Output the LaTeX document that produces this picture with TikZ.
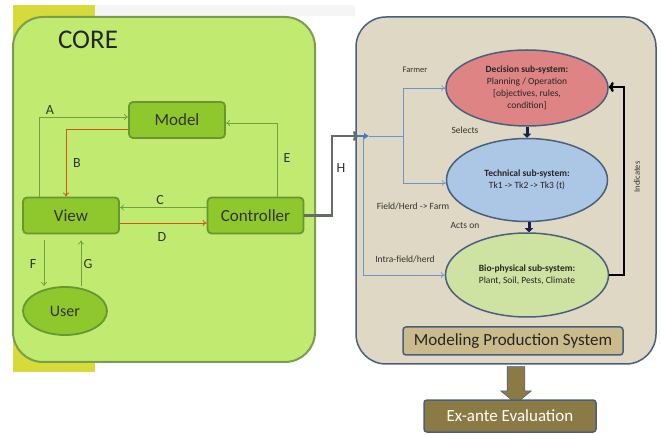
\documentclass[tikz,border=0pt]{standalone}
\usepackage{fontspec}
\setmainfont{Carlito}
\usetikzlibrary{positioning}
\usetikzlibrary{arrows.meta}
\usetikzlibrary{shapes.geometric}
\usetikzlibrary{shapes.arrows}

\definecolor{stripyellow}{RGB}{214,218,58}
\definecolor{corefill}{RGB}{192,234,112}
\definecolor{coreborder}{RGB}{122,158,78}
\definecolor{mvcfill}{RGB}{142,200,44}
\definecolor{mvcborder}{RGB}{104,150,52}
\definecolor{mvcgreen}{RGB}{112,160,64}
\definecolor{mvcred}{RGB}{212,84,30}
\definecolor{hgrey}{RGB}{100,108,100}
\definecolor{prodfill}{RGB}{222,216,196}
\definecolor{prodborder}{RGB}{72,96,126}
\definecolor{decfill}{RGB}{222,132,132}
\definecolor{techfill}{RGB}{172,198,230}
\definecolor{biofill}{RGB}{206,226,162}
\definecolor{feedblue}{RGB}{104,150,200}
\definecolor{entryblue}{RGB}{70,122,192}
\definecolor{stacknavy}{RGB}{20,32,82}
\definecolor{mpsfill}{RGB}{202,186,140}
\definecolor{exfill}{RGB}{140,122,68}

\tikzset{
  corebox/.style={draw=coreborder, line width=2pt, fill=corefill, rounded corners=30pt},
  sysbox/.style={draw=prodborder, line width=1.5pt, fill=prodfill, rounded corners=30pt},
  mvcbox/.style={draw=mvcborder, line width=1.8pt, fill=mvcfill, rounded corners=4pt,
    minimum width=96pt, minimum height=36pt, font=\fontsize{17}{19}\selectfont, text=black!80},
  userell/.style={ellipse, draw=mvcborder, line width=1.8pt, fill=mvcfill,
    minimum width=84pt, minimum height=48pt, inner sep=0pt, font=\fontsize{16}{18}\selectfont, text=black!80},
  mvcline/.style={draw=mvcgreen, line width=0.7pt, -{To[length=4pt,width=6pt]}},
  mvcred/.style={draw=mvcred, line width=0.8pt, -{To[length=4pt,width=6pt]}},
  mvclabel/.style={font=\fontsize{14}{16}\selectfont, text=black!80},
  hline/.style={draw=hgrey, line width=2.5pt, -{To[length=5pt,width=10pt]}},
  subsys/.style={ellipse, draw=prodborder, line width=1.5pt, inner sep=0pt,
    align=center, text=black!85, font=\fontsize{9.5}{12}\selectfont},
  feedline/.style={draw=feedblue, line width=0.6pt, -{To[length=4pt,width=6pt]}},
  entryarrow/.style={draw=entryblue, line width=2.5pt, -{Latex[length=5pt,width=7pt]}},
  stackarrow/.style={draw=stacknavy, line width=3pt, -{Triangle[length=4pt,width=8pt]}},
  indline/.style={draw=black, line width=2.5pt, -{To[length=5pt,width=10pt]}},
  smalllabel/.style={font=\fontsize{9.5}{11}\selectfont, text=black!80},
  mpsbox/.style={draw=prodborder, line width=1.5pt, fill=mpsfill, rounded corners=3pt,
    minimum width=220pt, minimum height=28pt, font=\fontsize{17}{19}\selectfont, text=black!85},
  exbox/.style={draw=prodborder, line width=1.5pt, fill=exfill, rounded corners=3pt,
    minimum width=172pt, minimum height=32pt, font=\fontsize{17}{19}\selectfont, text=white},
  bigarrow/.style={single arrow, draw=prodborder, line width=0.6pt, fill=exfill,
    shape border rotate=270, inner sep=8.5pt, single arrow head extend=6.5pt,
    single arrow tip angle=100, minimum height=37pt}
}

\begin{document}
\begin{tikzpicture}[x=1pt,y=-1pt]
    \useasboundingbox (0,0) rectangle (661,435);

    % backdrop
    \fill[stripyellow] (13,5) rectangle (95,372);
    \fill[black!4] (95,5) rectangle (355,16);

    % containers
    \node[corebox, minimum width=302pt, minimum height=345pt] (core) at (164,189.5) {};
    \node[font=\fontsize{27}{30}\selectfont, text=black!85] (coretitle) at (88,40) {CORE};
    \node[sysbox, minimum width=300pt, minimum height=347pt] (prod) at (506,190.5) {};

    % MVC blocks
    \node[mvcbox] (model) at (177,120) {Model};
    \node[mvcbox] (view) at (71,215.5) {View};
    \node[mvcbox] (controller) at (255.5,215.5) {Controller};
    \node[userell] (user) at (65,311) {User};

    % MVC links
    \draw[mvcline] ([xshift=-32pt]view.north) |- ([yshift=3pt]model.west);
    \draw[mvcred] ([yshift=-9pt]model.west) -| ([xshift=-5pt]view.north);
    \draw[mvcline] ([yshift=8pt]controller.west) -- ([yshift=8pt]view.east);
    \draw[mvcred] ([yshift=-7.5pt]view.east) -- ([yshift=-7.5pt]controller.west);
    \draw[mvcline] ([xshift=21.5pt]controller.north) |- ([yshift=-3pt]model.east);
    \draw[mvcline] ([xshift=-27pt,yshift=-6pt]view.south) -- ([xshift=-21pt]user.north);
    \draw[mvcline] ([xshift=16pt]user.north) -- ([xshift=10pt,yshift=-6pt]view.south);

    % MVC labels
    \node[mvclabel] (la) at (50,110) {A};
    \node[mvclabel] (lb) at (77,163) {B};
    \node[mvclabel] (lc) at (160,200) {C};
    \node[mvclabel] (ld) at (162,237) {D};
    \node[mvclabel] (le) at (287,158) {E};
    \node[mvclabel] (lf) at (33,264) {F};
    \node[mvclabel] (lg) at (88,264) {G};
    \node[mvclabel] (lh) at (341,168) {H};

    % link to production system
    \coordinate (hbend) at (332,136);
    \coordinate (hend) at (358,136);
    \draw[hline] (controller.east) -| (hbend) -- (hend);

    % sub-systems
    \node[subsys, fill=decfill, minimum width=162pt, minimum height=76pt] (decision) at (527,88)
      {\textbf{Decision sub-system:}\\Planning / Operation\\{[}objectives, rules,\\condition]};
    \node[subsys, fill=techfill, minimum width=161pt, minimum height=83pt] (technical) at (527,180)
      {\textbf{Technical sub-system:}\\Tk1 -> Tk2 -> Tk3 (t)};
    \node[subsys, fill=biofill, minimum width=163pt, minimum height=84pt] (bio) at (527,275)
      {\textbf{Bio-physical sub-system:}\\Plant, Soil, Pests, Climate};

    % feeds into sub-systems
    \coordinate (entry) at (357,136);
    \coordinate (split) at (369,136);
    \coordinate (fork) at (403,136);
    \coordinate (drop) at (363,136);
    \draw[feedline] (split) -- (fork) |- (decision.west);
    \draw[feedline] (fork) |- ([yshift=-3pt]technical.west);
    \draw[feedline] (drop) |- (bio.west);
    \draw[entryarrow] (entry) -- (split);

    % stack arrows
    \draw[stackarrow] (decision.south) -- (decision.south |- technical.north);
    \draw[stackarrow] ([xshift=2pt]technical.south) -- ([xshift=2pt]technical.south |- bio.north);

    % feedback
    \coordinate (ind) at (624,87);
    \draw[indline] (bio.east) -| (ind) -- (ind -| decision.east);
    \node[rotate=90, smalllabel, font=\fontsize{8.5}{10}\selectfont] (lind) at (637,177) {Indicates};

    % sub-system labels
    \node[smalllabel, font=\fontsize{8.5}{10}\selectfont] (lfarmer) at (415,70) {Farmer};
    \node[smalllabel] (lselects) at (465,130) {Selects};
    \node[smalllabel] (lfield) at (413,206) {Field/Herd -> Farm};
    \node[smalllabel] (lacts) at (465,225) {Acts on};
    \node[smalllabel] (lintra) at (405,259) {Intra-field/herd};

    % outputs
    \node[mpsbox] (mps) at (513,341) {Modeling Production System};
    \node[bigarrow] (down) at (516,381.5) {};
    \node[exbox] (exante) at (510,416) {Ex-ante Evaluation};
\end{tikzpicture}
\end{document}
